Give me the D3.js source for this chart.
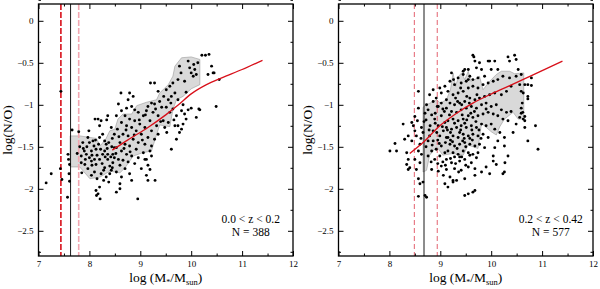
<!DOCTYPE html>
<html>
<head>
<meta charset="utf-8">
<script src="https://cdn.jsdelivr.net/npm/d3@7"></script>
<style>
  body { margin: 0; background: #fff; }
  svg { display: block; }
  text { font-family: "Liberation Serif", "Times New Roman", Times, serif; }
</style>
</head>
<body>
<div id="chart"></div>
<script>
// axis ticks
const xTicks = [7, 8, 9, 10, 11, 12];
const xMinorTicks = [7.5, 8.5, 9.5, 10.5, 11.5];
const yTicks = [0, -0.5, -1, -1.5, -2, -2.5];
const yMinorTicks = [0.25, -0.25, -0.75, -1.25, -1.75, -2.25, -2.75];

// redshift bin labels
const lowZText = ["0.0 < z < 0.2", "N = 388"];
const highZText = ["0.2 < z < 0.42", "N = 577"];

// completeness limits: dashed, solid, dashed
const lowZLimits = [7.44, 7.63, 7.79];
const highZLimits = [8.49, 8.68, 8.94];

// fitted relation (red curve)
const lowZFit = [[8.45,-1.54],[8.75,-1.42],[9.15,-1.27],[9.5,-1.12],[9.75,-1.0],[10.0,-0.87],[10.3,-0.76],[10.6,-0.68],[11.0,-0.58],[11.4,-0.47]];
const highZFit = [[8.4,-1.58],[8.66,-1.45],[8.99,-1.25],[9.32,-1.1],[9.64,-0.98],[9.97,-0.88],[10.3,-0.79],[10.62,-0.7],[10.98,-0.6],[11.4,-0.48]];

// grey envelope of the running distribution
const lowZBand = [[7.62,-1.37],[7.81,-1.37],[8.14,-1.40],[8.21,-1.49],[8.32,-1.41],[8.40,-1.31],[8.50,-1.29],[8.56,-1.17],[8.66,-1.11],[8.83,-1.11],[8.93,-1.01],[9.12,-0.97],[9.32,-0.94],[9.38,-0.86],[9.55,-0.76],[9.64,-0.66],[9.68,-0.54],[9.81,-0.44],[10.0,-0.43],[10.17,-0.46],
  [10.17,-0.76],[10.0,-0.81],[9.84,-0.90],[9.71,-0.94],[9.64,-1.06],[9.58,-1.26],[9.38,-1.24],[9.25,-1.49],[9.22,-1.55],[9.05,-1.57],[8.86,-1.61],[8.70,-1.75],[8.60,-1.81],[8.40,-1.79],[8.21,-1.86],[8.01,-1.88],[7.81,-1.74],[7.62,-1.74]];
const highZBand = [[8.66,-1.03],[8.70,-1.01],[8.83,-0.97],[8.93,-0.94],[9.0,-0.98],[9.12,-0.94],[9.2,-0.82],[9.25,-0.62],[9.3,-0.78],[9.36,-0.66],[9.42,-0.62],[9.48,-0.70],[9.55,-0.60],[9.6,-0.72],[9.68,-0.70],[9.77,-0.66],[9.84,-0.82],[9.97,-0.72],[10.10,-0.64],[10.20,-0.60],[10.36,-0.60],[10.46,-0.63],[10.64,-0.62],
  [10.64,-1.17],[10.53,-1.17],[10.43,-1.09],[10.26,-1.17],[10.17,-1.26],[10.10,-1.36],[10.0,-1.32],[9.81,-1.22],[9.77,-1.40],[9.74,-1.52],[9.55,-1.48],[9.45,-1.60],[9.25,-1.58],[9.05,-1.60],[8.93,-1.50],[8.79,-1.60],[8.73,-1.78],[8.66,-1.80]];

// galaxies, [log M*, log N/O]
const lowZPoints = [
  [7.25,-1.82],[7.15,-1.93],[7.43,-1.76],[7.46,-1.89],[7.57,-2.1],[7.61,-1.91],[7.6,-1.82],[7.58,-1.59],[7.59,-1.65],[7.61,-1.71],[7.44,-0.84],
  [7.66,-1.3],[7.79,-1.32],[7.81,-1.5],[7.76,-1.58],[7.84,-1.69],[7.85,-1.81],[7.99,-1.31],[8.17,-1.17],[8.23,-1.19],[8.36,-1.13],[8.09,-1.49],
  [7.94,-1.59],[8.0,-1.63],[8.04,-1.67],[7.91,-1.71],[8.13,-1.71],[8.2,-1.65],[8.26,-1.59],[8.3,-1.55],[8.33,-1.47],[8.38,-1.45],[8.4,-1.73],
  [8.43,-1.78],[8.46,-1.69],[8.1,-1.8],[8.2,-1.98],[8.13,-2.02],[8.17,-2.06],[7.97,-1.39],[8.07,-1.43],[8.2,-1.39],[8.26,-1.35],[8.3,-1.43],
  [7.87,-1.45],[7.9,-1.55],[7.84,-1.61],[8.04,-1.55],[8.13,-1.53],[8.22,-1.53],[8.36,-1.59],[8.36,-1.65],[8.46,-1.59],[8.49,-1.51],[8.49,-1.63],
  [8.3,-1.75],[8.23,-1.82],[8.33,-1.86],[8.4,-1.82],[8.53,-1.8],[7.97,-1.76],[8.04,-1.84],[8.43,-1.27],[8.49,-1.35],[8.2,-1.25],
  [8.14,-2.08],[8.21,-2.12],[8.53,-2.04],[8.6,-1.94],[8.11,-1.17],[8.34,-1.18],
  [7.95,-1.5],[8.0,-1.45],[8.05,-1.6],[8.1,-1.65],[8.15,-1.6],[8.18,-1.47],[8.25,-1.7],[8.28,-1.78],[8.35,-1.52],[8.42,-1.62],[8.45,-1.75],
  [8.38,-1.92],[8.28,-1.9],[8.15,-1.88],[8.05,-1.72],[7.92,-1.65],[7.88,-1.52],[8.12,-1.42],[8.31,-1.62],[8.44,-1.5],
  [10.21,-0.41],[10.28,-0.41],[9.94,-0.48],[9.97,-0.56],[10.0,-0.62],[10.07,-0.58],[10.04,-0.66],[10.1,-0.64],[9.87,-0.72],[10.13,-0.5],[9.77,-0.54],[9.74,-0.7],
  [10.4,-0.54],[10.43,-0.62],[10.33,-0.64],[10.49,-1.02],[9.2,-0.74],[9.28,-0.74],[8.62,-0.86],[8.79,-0.86],[8.76,-0.94],[8.86,-0.9],
  [9.35,-0.84],[9.51,-0.82],[9.58,-0.78],[9.64,-0.74],[9.68,-0.86],[9.61,-0.9],[9.55,-0.94],[9.74,-0.94],[9.84,-1.0],[10.0,-1.04],[10.17,-1.06],
  [9.81,-1.07],[9.87,-1.11],[9.9,-1.17],[9.74,-1.25],[9.77,-1.33],[9.71,-1.41],[9.61,-1.53],[9.38,-0.96],[9.42,-1.03],[9.28,-0.99],[9.22,-0.98],
  [9.15,-1.02],[9.12,-1.07],[9.25,-1.09],[9.35,-1.13],[9.45,-1.19],[9.55,-1.21],[9.48,-1.27],[9.32,-1.25],[9.19,-1.19],[9.06,-1.13],[8.96,-1.09],
  [8.89,-1.06],[8.83,-1.02],[8.73,-1.04],[8.63,-1.07],[8.57,-0.99],[8.53,-1.13],[8.7,-1.13],[8.79,-1.17],[8.89,-1.19],[8.99,-1.23],[9.09,-1.27],
  [9.22,-1.31],[9.35,-1.35],[9.28,-1.41],[9.15,-1.39],[9.02,-1.35],[8.92,-1.31],[8.83,-1.27],[8.73,-1.25],[8.63,-1.21],[8.55,-1.29],[8.66,-1.35],
  [8.76,-1.37],[8.86,-1.41],[8.96,-1.45],[9.09,-1.47],[9.22,-1.49],[9.19,-1.55],[9.06,-1.57],[8.92,-1.53],[8.79,-1.49],[8.7,-1.47],[8.6,-1.45],
  [8.53,-1.51],[8.63,-1.55],[8.73,-1.59],[8.83,-1.61],[8.96,-1.63],[9.09,-1.65],[9.15,-1.72],[9.02,-1.76],[8.89,-1.7],[8.76,-1.68],[8.66,-1.66],
  [8.57,-1.65],[8.6,-1.72],[8.7,-1.76],[8.79,-1.82],[8.63,-1.86],[8.83,-1.9],[9.12,-1.84],[9.15,-1.9],[8.6,-2.0],[8.95,-2.12],
  [9.51,-1.03],[9.58,-1.09],[9.64,-1.05],[9.71,-1.13],[9.81,-1.29],[9.84,-1.23],[10.1,-1.15],
  [9.29,-1.9],[9.19,-1.77],[9.22,-1.61],[9.12,-1.65],[9.52,-1.33],[9.68,-1.25],[9.94,-1.06],[10.55,-0.7],[10.15,-1.05],[10.35,-0.4],[10.45,-0.62],
  [8.45,-1.4],[8.52,-1.58],[8.58,-1.38],[8.68,-1.52],[8.72,-1.3],[8.8,-1.56],[8.88,-1.36],[8.98,-1.18],[9.04,-1.42],[9.1,-1.12],[9.3,-1.05],[9.4,-1.2],
  [9.46,-0.9],[9.6,-0.98],[9.66,-1.18],[9.9,-0.85],[9.8,-0.62],[10.05,-0.52]
];

const highZPoints = [
  [8.01,-1.55],[8.11,-1.46],[8.27,-1.23],[8.37,-1.37],[8.3,-1.41],[8.44,-1.43],[8.34,-1.57],[8.37,-1.65],[8.4,-1.75],[8.5,-1.31],[8.53,-1.37],
  [8.44,-1.21],[8.5,-1.14],[8.57,-1.04],[8.57,-0.84],[8.55,-1.19],[8.63,-1.27],[8.66,-1.33],[8.6,-1.47],[8.57,-1.55],[8.63,-1.59],[8.5,-1.65],
  [8.6,-1.69],[8.53,-1.77],[8.57,-1.88],[8.6,-1.94],[8.66,-1.92],[8.57,-2.09],[8.7,-2.08],[8.73,-2.1],[8.73,-1.0],[8.76,-1.06],[8.86,-0.96],
  [8.92,-0.92],[8.99,-0.8],[8.86,-0.82],[9.09,-0.78],[9.02,-0.86],[9.12,-0.94],[8.96,-1.02],[8.83,-1.12],[8.89,-1.17],[9.02,-1.13],[9.09,-1.21],
  [8.96,-1.25],[8.86,-1.31],[8.79,-1.37],[8.76,-1.43],[8.86,-1.43],[8.99,-1.37],[9.06,-1.31],[9.12,-1.39],[9.02,-1.49],[8.92,-1.53],[8.83,-1.55],
  [8.76,-1.61],[8.89,-1.65],[8.99,-1.61],[9.09,-1.57],[9.02,-1.73],[9.12,-1.77],[8.96,-1.79],[8.83,-1.77],[9.06,-1.84],[9.15,-1.98],[9.09,-1.94],
  [9.19,-1.86],[8.7,-1.1],[8.79,-0.88],[9.02,-0.98],[8.14,-1.55],[8.34,-1.71],[8.37,-1.77],[8.47,-1.25],[8.62,-1.4],[8.72,-1.5],[8.8,-1.25],
  [8.9,-1.1],[8.95,-1.42],[9.05,-1.05],[8.68,-1.2],[8.82,-1.68],[8.93,-1.33],
  [9.64,-0.41],[9.68,-0.48],[9.55,-0.58],[9.48,-0.58],[9.45,-0.64],[9.35,-0.68],[9.71,-0.56],[9.81,-0.58],[9.94,-0.48],[10.07,-0.48],[10.0,-0.58],
  [10.13,-0.58],[10.46,-0.41],[10.49,-0.46],[10.53,-0.58],[9.87,-0.66],[9.74,-0.68],[9.64,-0.7],[9.58,-0.66],[9.51,-0.72],[9.41,-0.74],[9.28,-0.76],
  [9.19,-0.72],[9.22,-0.62],[9.15,-0.84],[9.25,-0.88],[9.35,-0.86],[9.45,-0.84],[9.55,-0.8],[9.64,-0.78],[9.74,-0.8],[9.84,-0.76],[9.94,-0.74],
  [10.04,-0.72],[10.13,-0.7],[10.23,-0.66],[10.36,-0.68],[10.49,-0.66],[10.59,-0.84],[10.56,-0.76],[10.39,-0.78],[10.3,-0.84],[10.2,-0.88],
  [10.07,-0.86],[9.97,-0.88],[9.87,-0.9],[9.77,-0.92],[9.68,-0.94],[9.58,-0.92],[9.48,-0.96],[9.38,-0.98],[9.28,-1.0],[9.19,-0.98],[9.12,-1.04],
  [9.22,-1.08],[9.32,-1.09],[9.41,-1.06],[9.51,-1.04],[9.61,-1.02],[9.71,-1.04],[9.81,-1.0],[9.9,-0.98],[10.0,-1.02],[10.1,-1.0],[10.2,-1.06],
  [10.3,-1.09],[10.39,-1.08],[10.59,-1.04],[10.62,-1.09],[10.56,-1.15],[10.49,-1.23],[10.33,-1.19],[10.23,-1.17],[10.13,-1.13],[10.04,-1.11],
  [9.94,-1.09],[9.84,-1.11],[9.74,-1.13],[9.64,-1.15],[9.55,-1.13],[9.45,-1.17],[9.35,-1.19],[9.25,-1.17],[9.15,-1.19],[9.12,-1.27],[9.22,-1.29],
  [9.32,-1.27],[9.41,-1.25],[9.51,-1.27],[9.61,-1.25],[9.71,-1.27],[9.81,-1.23],[9.9,-1.25],[10.0,-1.23],[10.07,-1.29],[10.17,-1.33],[10.26,-1.39],
  [10.13,-1.43],[10.07,-1.51],[10.26,-1.49],[9.94,-1.39],[9.84,-1.35],[9.74,-1.37],[9.64,-1.35],[9.55,-1.37],[9.45,-1.35],[9.35,-1.39],[9.25,-1.37],
  [9.15,-1.39],[9.19,-1.47],[9.28,-1.49],[9.38,-1.47],[9.48,-1.45],[9.58,-1.47],[9.68,-1.49],[9.77,-1.47],[9.87,-1.51],[9.74,-1.57],[9.64,-1.59],
  [9.55,-1.57],[9.45,-1.55],[9.35,-1.59],[9.25,-1.57],[9.15,-1.55],[9.12,-1.65],[9.22,-1.69],[9.38,-1.67],[9.48,-1.65],[9.61,-1.69],[9.71,-1.63],
  [9.68,-1.76],[9.55,-1.74],[9.41,-1.78],[9.28,-1.76],[10.04,-1.61],[10.1,-1.71],[10.26,-1.8],[9.9,-1.74],[9.81,-1.8],[9.48,-1.88],[9.32,-1.9],
  [9.25,-1.92],[9.68,-1.84],[9.68,-2.02],[9.55,-2.06],[9.48,-2.08],
  [10.59,-0.64],[10.79,-0.68],[10.66,-0.76],[10.72,-0.76],[10.79,-0.77],[10.63,-0.86],[10.72,-0.9],[10.72,-0.93],[10.61,-0.98],[10.59,-1.1],
  [10.66,-1.14],[10.63,-1.17],[10.66,-1.19],[10.66,-1.27],[10.87,-1.25],[10.72,-1.43],[10.92,-1.53],
  [10.27,-1.69],[10.23,-1.82],[10.04,-1.67],[9.97,-1.82],[10.33,-1.61],[10.43,-1.33],[9.64,-2.04],[9.25,-1.9],
  [9.66,-0.43],[9.97,-0.48],[9.77,-0.5],[10.33,-0.43],[10.36,-0.48],[9.45,-0.6],
  [9.3,-0.92],[9.4,-1.3],[9.5,-1.5],[9.6,-1.1],[9.2,-1.42],[9.38,-1.62],[9.52,-0.9],[9.7,-1.2],[9.42,-1.0],[9.58,-1.4],[9.33,-1.52],[9.48,-1.22],
  [9.2,-1.33],[9.62,-1.3],[9.8,-1.4],[9.9,-1.05],[9.1,-1.45],[9.05,-1.68],[9.28,-1.62],[9.44,-1.43],
  [8.72,-1.18],[8.78,-1.3],[8.84,-1.48],[8.9,-1.22],[8.94,-1.02],[8.98,-1.46],[9.04,-1.26],[9.08,-1.08],[9.14,-1.3],[9.18,-1.12],[9.24,-1.44],
  [9.28,-1.22],[9.34,-0.96],[9.38,-1.33],[9.43,-1.12],[9.47,-1.4],[9.52,-1.18],[9.57,-0.98],[9.63,-1.42],[9.67,-1.08],[9.72,-0.88],[9.76,-1.3],
  [9.3,-1.7],[9.36,-1.8],[9.42,-1.62],[9.5,-1.72],[9.58,-1.6],[9.2,-1.64],[9.1,-1.72],[8.95,-1.7],[9.4,-0.8],[9.26,-0.7],[9.55,-0.7]
];

const W = 600, H = 289;
const plotW = 254.5, plotTop = 4, plotBottom = 256;
const panelLeft = [38.5, 338.5];

const svg = d3.select("#chart").append("svg")
  .attr("width", W).attr("height", H);

const x = d3.scaleLinear().domain([7, 12]).range([0, plotW]);
const y = d3.scaleLinear().domain([-2.8, 0.2]).range([plotBottom, plotTop]);

function drawPanel(left, points, band, fit, limits, label) {
  const g = svg.append("g").attr("transform", `translate(${left},0)`);
  const lowBin = left < 100;

  // grey band
  g.append("path")
    .datum(band)
    .attr("d", d3.line().x((d) => x(d[0])).y((d) => y(d[1])).curve(d3.curveLinearClosed))
    .attr("fill", "#d9d9d9")
    .attr("stroke", "#8a8a8a")
    .attr("stroke-width", 0.5);

  // limit lines
  const limitStyle = [
    { color: lowBin ? "#d8101a" : "#e05060", dash: lowBin ? "6,2" : "5,3", width: lowBin ? 1.6 : 0.9 },
    { color: "#000", dash: null, width: 0.9 },
    { color: lowBin ? "#f2a6b0" : "#e05060", dash: lowBin ? "6,2" : "5,3", width: lowBin ? 1.6 : 0.9 },
  ];
  g.selectAll("line.limit")
    .data(limits)
    .enter()
    .append("line")
    .attr("class", "limit")
    .attr("x1", (d) => x(d)).attr("x2", (d) => x(d))
    .attr("y1", plotTop).attr("y2", plotBottom)
    .attr("stroke", (d, i) => limitStyle[i].color)
    .attr("stroke-width", (d, i) => limitStyle[i].width)
    .attr("stroke-dasharray", (d, i) => limitStyle[i].dash);

  // points
  g.append("g")
    .selectAll("circle")
    .data(points)
    .enter()
    .append("circle")
    .attr("cx", (d) => x(d[0]))
    .attr("cy", (d) => y(d[1]))
    .attr("r", 1.45)
    .attr("fill", "#000");

  // fit
  g.append("path")
    .datum(fit)
    .attr("d", d3.line().x((d) => x(d[0])).y((d) => y(d[1])).curve(d3.curveMonotoneX))
    .attr("fill", "none")
    .attr("stroke", "#d8101a")
    .attr("stroke-width", 1.3);

  // axes, ticks pointing inwards on all sides
  const axes = [
    { ax: d3.axisBottom(x), pos: `translate(0,${plotBottom})`, major: xTicks, minor: xMinorTicks, labels: true },
    { ax: d3.axisTop(x), pos: `translate(0,${plotTop})`, major: xTicks, minor: xMinorTicks, labels: false },
    { ax: d3.axisLeft(y), pos: "translate(0,0)", major: yTicks, minor: yMinorTicks, labels: true },
    { ax: d3.axisRight(y), pos: `translate(${plotW},0)`, major: yTicks, minor: yMinorTicks, labels: false },
  ];
  axes.forEach((a) => {
    const major = g.append("g").attr("transform", a.pos)
      .call(a.ax.tickValues(a.major).tickSize(-5).tickPadding(5)
        .tickFormat(a.labels ? d3.format("") : ""));
    major.attr("font-family", null);
    major.select(".domain").remove();
    major.selectAll("text").attr("font-size", 9).attr("fill", "#000");
    major.selectAll("line").attr("stroke", "#000");
    const minor = g.append("g").attr("transform", a.pos)
      .call(a.ax.tickValues(a.minor).tickSize(-2.5).tickFormat(""));
    minor.select(".domain").remove();
    minor.selectAll("line").attr("stroke", "#000");
  });

  g.append("rect")
    .attr("x", 0).attr("y", plotTop)
    .attr("width", plotW).attr("height", plotBottom - plotTop)
    .attr("fill", "none")
    .attr("stroke", "#000")
    .attr("stroke-width", 1.3);

  // z bin label
  g.selectAll("text.zlab")
    .data(label)
    .enter()
    .append("text")
    .attr("class", "zlab")
    .attr("x", x(11.17))
    .attr("y", (d, i) => 223 + i * 12.5)
    .attr("text-anchor", "middle")
    .attr("font-size", 11.5)
    .text((d) => d);

  // x axis title
  const xt = g.append("text")
    .attr("x", x(9.5))
    .attr("y", 282)
    .attr("text-anchor", "middle")
    .attr("font-size", 13.5);
  xt.append("tspan").text("log (M");
  xt.append("tspan").attr("font-size", 8).attr("dy", 3).text("*");
  xt.append("tspan").attr("dy", -3).text("/M");
  xt.append("tspan").attr("font-size", 8.5).attr("dy", 3).text("sun");
  xt.append("tspan").attr("dy", -3).text(")");

  // y axis title
  g.append("text")
    .attr("class", "ytitle")
    .attr("x", -y(-1.3))
    .attr("y", -27)
    .attr("transform", "rotate(-90)")
    .attr("text-anchor", "middle")
    .attr("font-size", 13.5)
    .attr("fill", "#000")
    .text("log(N/O)");
}

drawPanel(panelLeft[0], lowZPoints, lowZBand, lowZFit, lowZLimits, lowZText);
drawPanel(panelLeft[1], highZPoints, highZBand, highZFit, highZLimits, highZText);
</script>
</body>
</html>
